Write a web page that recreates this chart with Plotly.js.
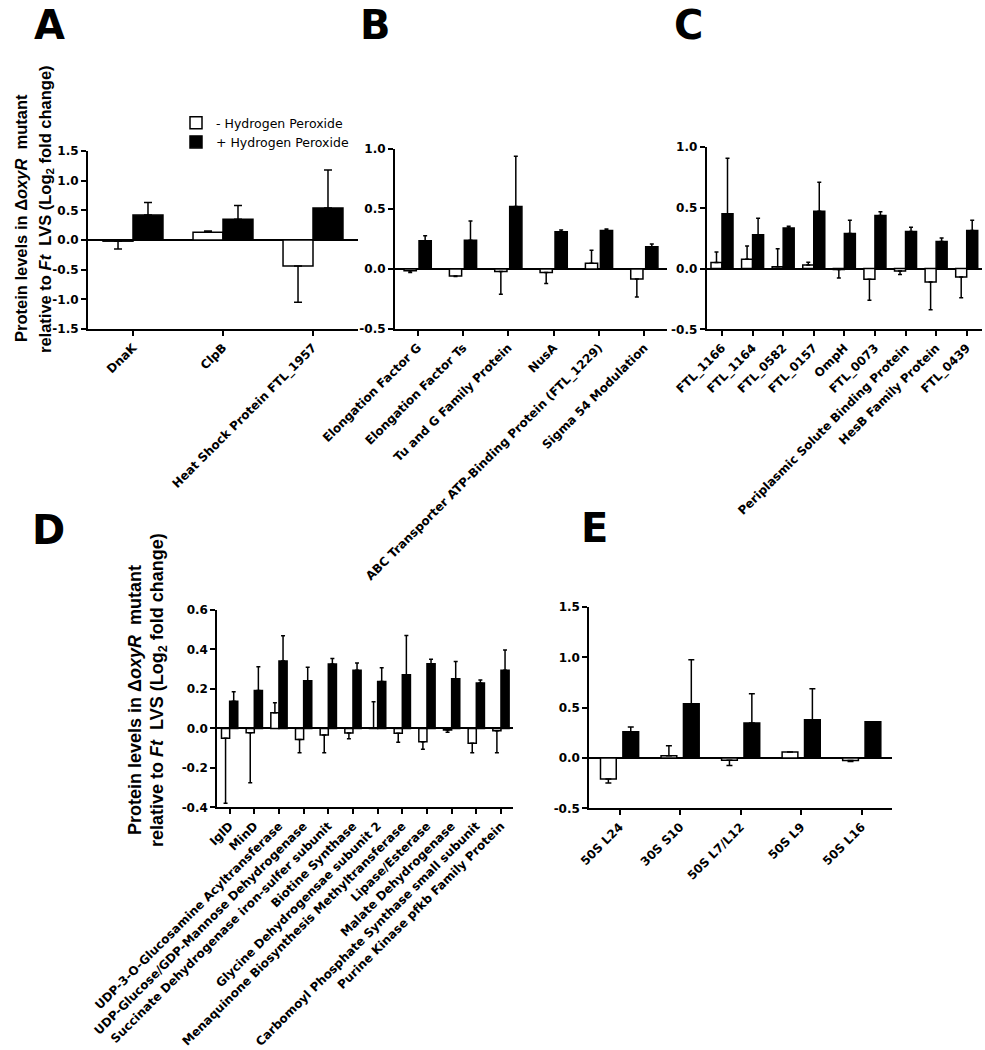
<!DOCTYPE html>
<html><head><meta charset="utf-8">
<script src="https://cdn.plot.ly/plotly-3.0.1.min.js"></script>
<style>html,body{margin:0;padding:0;background:#fff}</style>
</head><body><div id="chart" style="width:985px;height:1050px"></div>
<script>
// ---------- DATA ----------
const seriesNames = ["- Hydrogen Peroxide", "+ Hydrogen Peroxide"];

// Panel A
const catsA = ["DnaK", "ClpB", "Heat Shock Protein FTL_1957"];
const minusA = [-0.02, 0.13, -0.44];
const minusErrA = [0.13, 0.02, 0.61];
const plusA = [0.42, 0.35, 0.54];
const plusErrA = [0.21, 0.23, 0.64];

// Panel B
const catsB = ["Elongation Factor G", "Elongation Factor Ts", "Tu and G Family Protein", "NusA",
  "ABC Transporter ATP-Binding Protein (FTL_1229)", "Sigma 54 Modulation"];
const minusB = [-0.014, -0.058, -0.02, -0.03, 0.047, -0.083];
const minusErrB = [0.016, 0.005, 0.19, 0.09, 0.11, 0.15];
const plusB = [0.236, 0.239, 0.52, 0.31, 0.32, 0.186];
const plusErrB = [0.042, 0.16, 0.42, 0.015, 0.013, 0.022];

// Panel C
const catsC = ["FTL_1166", "FTL_1164", "FTL_0582", "FTL_0157", "OmpH", "FTL_0073",
  "Periplasmic Solute Binding Protein", "HesB Family Protein", "FTL_0439"];
const minusC = [0.05, 0.077, 0.014, 0.03, -0.008, -0.088, -0.02, -0.11, -0.07];
const minusErrC = [0.087, 0.109, 0.148, 0.022, 0.069, 0.172, 0.03, 0.23, 0.17];
const plusC = [0.45, 0.277, 0.334, 0.471, 0.288, 0.436, 0.304, 0.222, 0.312];
const plusErrC = [0.457, 0.137, 0.014, 0.239, 0.109, 0.032, 0.036, 0.03, 0.085];

// Panel D
const catsD = ["IglD", "MinD", "UDP-3-O-Glucosamine Acyltransferase", "UDP-Glucose/GDP-Mannose Dehydrogenase",
  "Succinate Dehydrogenase iron-sulfer subunit", "Biotine Synthase", "Glycine Dehydrogensae subunit 2",
  "Menaquinone Biosynthesis Methyltransferase", "Lipase/Esterase", "Malate Dehydrogenase",
  "Carbomoyl Phosphate Synthase small subunit", "Purine Kinase pfkb Family Protein"];
const minusD = [-0.05, -0.022, 0.079, -0.056, -0.034, -0.024, 0.003, -0.025, -0.068, -0.008, -0.076, -0.012];
const minusErrD = [0.33, 0.253, 0.051, 0.067, 0.089, 0.028, 0.132, 0.045, 0.038, 0.012, 0.047, 0.111];
const plusD = [0.138, 0.192, 0.341, 0.241, 0.326, 0.295, 0.238, 0.272, 0.327, 0.251, 0.23, 0.295];
const plusErrD = [0.048, 0.12, 0.129, 0.069, 0.028, 0.036, 0.069, 0.199, 0.024, 0.088, 0.015, 0.102];

// Panel E
const catsE = ["50S L24", "30S S10", "50S L7/L12", "50S L9", "50S L16"];
const minusE = [-0.208, 0.023, -0.023, 0.06, -0.026];
const minusErrE = [0.04, 0.099, 0.053, 0.0, 0.01];
const plusE = [0.261, 0.538, 0.347, 0.38, 0.36];
const plusErrE = [0.046, 0.437, 0.291, 0.307, 0.0];

// Y tick labels
const yTicksA = [-1.5, -1, -0.5, 0, 0.5, 1, 1.5];
const yTextA = ["-1.5", "-1.0", "-0.5", "0.0", "0.5", "1.0", "1.5"];
const yTicksBC = [-0.5, 0, 0.5, 1];
const yTextBC = ["-0.5", "0.0", "0.5", "1.0"];
const yTicksD = [-0.4, -0.2, 0, 0.2, 0.4, 0.6];
const yTextD = ["-0.4", "-0.2", "0.0", "0.2", "0.4", "0.6"];
const yTicksE = [-0.5, 0, 0.5, 1, 1.5];
const yTextE = ["-0.5", "0.0", "0.5", "1.0", "1.5"];

// ---------- LAYOUT HELPERS ----------
const W = 985, H = 1050;
const px = v => v / W;
const py = v => 1 - v / H;
const FONT = "DejaVu Sans";
const TFONT = "Liberation Sans";

function errUp(v, e) { return v.map((x, i) => x >= 0 ? e[i] : 0); }
function errDown(v, e) { return v.map((x, i) => x < 0 ? e[i] : 0); }

const traces = [];
function addPanel(k, cats, vm, em, vp, ep, st) {
  const xa = k === 1 ? 'x' : 'x' + k, ya = k === 1 ? 'y' : 'y' + k;
  traces.push({
    type: 'bar', x: cats, y: vm, xaxis: xa, yaxis: ya, name: seriesNames[0],
    width: st.w, offset: st.offM, showlegend: k === 1, legendgroup: 'm',
    marker: {color: '#ffffff', line: {color: '#000', width: 1.5}},
    error_y: {type: 'data', symmetric: false, array: errUp(vm, em), arrayminus: errDown(vm, em),
      color: '#000', thickness: 1.5, width: st.cap},
    hoverinfo: 'skip'
  });
  traces.push({
    type: 'bar', x: cats, y: vp, xaxis: xa, yaxis: ya, name: seriesNames[1],
    width: st.w, offset: st.offP, showlegend: k === 1, legendgroup: 'p',
    marker: {color: '#000000', line: {color: '#000', width: 1.5}},
    error_y: {type: 'data', symmetric: false, array: errUp(vp, ep), arrayminus: errDown(vp, ep),
      color: '#000', thickness: 1.5, width: st.cap},
    hoverinfo: 'skip'
  });
}
addPanel(1, catsA, minusA, minusErrA, plusA, plusErrA, {w: 0.333, offM: -0.333, offP: 0, cap: 4});
addPanel(2, catsB, minusB, minusErrB, plusB, plusErrB, {w: 0.27, offM: -0.3, offP: 0.03, cap: 2});
addPanel(3, catsC, minusC, minusErrC, plusC, plusErrC, {w: 0.36, offM: -0.36, offP: 0, cap: 2});
addPanel(4, catsD, minusD, minusErrD, plusD, plusErrD, {w: 0.33, offM: -0.33, offP: 0, cap: 2});
addPanel(5, catsE, minusE, minusErrE, plusE, plusErrE, {w: 0.26, offM: -0.315, offP: 0.055, cap: 3});

const layout = {
  width: W, height: H, margin: {l: 0, r: 0, t: 0, b: 0},
  paper_bgcolor: '#fff', plot_bgcolor: 'rgba(0,0,0,0)',
  barmode: 'overlay', showlegend: true,
  font: {family: FONT, color: '#000'},
  legend: {x: px(176), y: py(108), xanchor: 'left', yanchor: 'top', bgcolor: 'rgba(0,0,0,0)',
    font: {family: FONT, size: 12.5, color: '#000'}, traceorder: 'normal', tracegroupgap: 0},
  annotations: [], shapes: []
};

const panels = [
  {k: 1, cats: catsA, x0: 88, x1: 358, yTop: 151, yBot: 329, range: [-1.5, 1.5], tv: yTicksA, tt: yTextA},
  {k: 2, cats: catsB, x0: 395, x1: 667, yTop: 149, yBot: 329, range: [-0.5, 1.0], tv: yTicksBC, tt: yTextBC},
  {k: 3, cats: catsC, x0: 706.7, x1: 982, yTop: 147, yBot: 329.3, range: [-0.5, 1.0], tv: yTicksBC, tt: yTextBC},
  {k: 4, cats: catsD, x0: 217.3, x1: 513.3, yTop: 610, yBot: 807.3, range: [-0.4, 0.6], tv: yTicksD, tt: yTextD},
  {k: 5, cats: catsE, x0: 589.3, x1: 892, yTop: 607, yBot: 808.3, range: [-0.5, 1.5], tv: yTicksE, tt: yTextE}
];
panels.forEach(p => {
  const xn = p.k === 1 ? 'xaxis' : 'xaxis' + p.k, yn = p.k === 1 ? 'yaxis' : 'yaxis' + p.k;
  const xa = p.k === 1 ? 'x' : 'x' + p.k, ya = p.k === 1 ? 'y' : 'y' + p.k;
  layout[xn] = {
    domain: [px(p.x0), px(p.x1)], anchor: ya, type: 'category', range: [-0.5, p.cats.length - 0.5],
    showline: true, linecolor: '#000', linewidth: 2, ticks: 'outside', ticklen: 5, tickwidth: 2, tickcolor: '#000',
    tickangle: -45, tickfont: {family: FONT, size: 12, weight: 'bold', color: '#000'},
    showgrid: false, zeroline: false, fixedrange: true
  };
  layout[yn] = {
    domain: [py(p.yBot), py(p.yTop)], anchor: xa, range: p.range, tickvals: p.tv, ticktext: p.tt,
    showline: true, linecolor: '#000', linewidth: 2, ticks: 'outside', ticklen: 5, tickwidth: 2, tickcolor: '#000',
    tickfont: {family: FONT, size: 12, weight: 'bold', color: '#000'},
    showgrid: false, zeroline: true, zerolinecolor: '#000', zerolinewidth: 2, fixedrange: true
  };
});

// panel letters
[["A", 49, 0, 'top'], ["B", 375, 0, 'top'], ["C", 688, 0, 'top'], ["D", 48, 530, 'middle'], ["E", 594, 528, 'middle']].forEach(a => {
  layout.annotations.push({text: a[0], xref: 'paper', yref: 'paper', x: px(a[1]), y: py(a[2]),
    xanchor: 'center', yanchor: a[3], showarrow: false,
    font: {family: FONT, size: 40, weight: 'bold', color: '#000'}});
});
// y titles
const t1 = "Protein levels in \u0394<i>oxyR</i>\u00a0\u00a0mutant";
const t2 = "relative to <i>Ft</i>\u00a0\u00a0LVS (Log<sub>2</sub> fold change)";
[[21, 218, t1, 16.5], [46, 209, t2, 16.5], [135, 700, t1, 18], [158, 690, t2, 18]].forEach(a => {
  layout.annotations.push({text: a[2], xref: 'paper', yref: 'paper', x: px(a[0]), y: py(a[1]),
    xanchor: 'center', yanchor: 'middle', showarrow: false, textangle: -90,
    font: {family: TFONT, size: a[3], weight: 'bold', color: '#000'}});
});

Plotly.newPlot('chart', traces, layout, {staticPlot: true, displayModeBar: false});
</script>
</body></html>
